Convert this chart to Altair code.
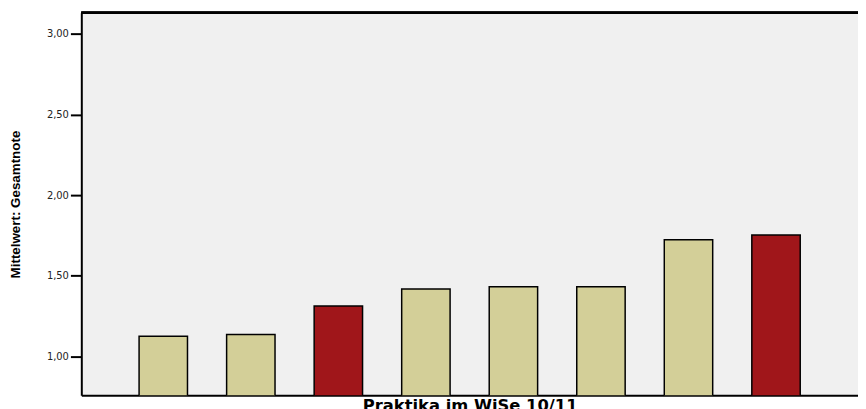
import altair as alt
import pandas as pd

# Data
praktika = ["P1", "P2", "P3", "P4", "P5", "P6", "P7", "P8"]
mittelwert = [1.125, 1.137, 1.313, 1.419, 1.432, 1.432, 1.723, 1.753]
gruppe = ["a", "a", "b", "a", "a", "a", "a", "b"]
y_ticks = [1.0, 1.5, 2.0, 2.5, 3.0]

df = pd.DataFrame({"praktikum": praktika, "wert": mittelwert, "gruppe": gruppe})

W, H = 784, 386

bars = alt.Chart(df).mark_bar(clip=True, stroke="black", strokeWidth=1.5).encode(
    x=alt.X(
        "praktikum:N",
        sort=praktika,
        scale=alt.Scale(paddingInner=0.447, paddingOuter=0.66),
        axis=alt.Axis(
            title="Praktika im WiSe 10/11",
            labels=False,
            ticks=False,
            domain=True,
            domainColor="black",
            domainWidth=2,
            titleFont="DejaVu Sans",
            titleFontSize=16.5,
            titleFontWeight="bold",
            titleColor="black",
            titlePadding=2,
        ),
    ),
    y=alt.Y(
        "wert:Q",
        scale=alt.Scale(domain=[0.76, 3.13], nice=False, zero=False),
        axis=alt.Axis(
            title="Mittelwert: Gesamtnote",
            values=y_ticks,
            labelExpr="replace(format(datum.value, '.2f'), '.', ',')",
            grid=False,
            domainColor="black",
            domainWidth=2,
            tickColor="black",
            tickWidth=2,
            tickSize=11,
            labelPadding=2,
            labelFont="DejaVu Sans",
            labelFontSize=10,
            labelColor="#222222",
            titleFont="Liberation Sans",
            titleFontSize=13.5,
            titleFontWeight="bold",
            titleColor="black",
            titleX=-59,
        ),
    ),
    color=alt.Color(
        "gruppe:N",
        scale=alt.Scale(domain=["a", "b"], range=["#D3CF98", "#A0161A"]),
        legend=None,
    ),
)

top_frame = alt.Chart(df).mark_rule(color="black", strokeWidth=2).encode(
    x=alt.value(0), x2=alt.value(W), y=alt.value(0)
)

chart = alt.layer(bars, top_frame).properties(
    width=W,
    height=H,
    autosize=alt.AutoSizeParams(type="none"),
    padding={"left": 74, "top": 3, "right": 0, "bottom": 12},
).configure_view(fill="#F0F0F0", stroke=None)

chart.save("out.html", embed_options={"renderer": "svg", "actions": False})
